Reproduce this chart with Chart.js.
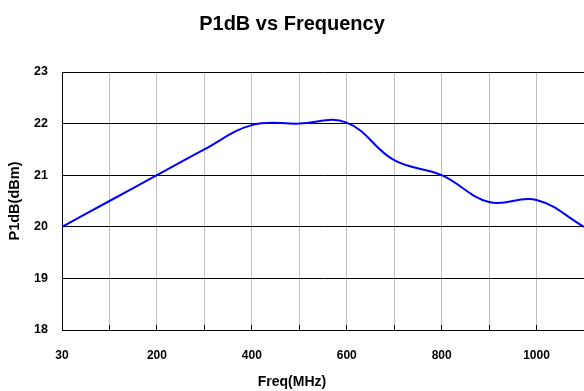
<!DOCTYPE html>
<html>
<head>
<meta charset="utf-8">
<script src="https://cdn.jsdelivr.net/npm/chart.js@4"></script>
<style>
  html, body { margin: 0; padding: 0; background: #fff; }
  #wrap { width: 584px; height: 391px; }
</style>
</head>
<body>
<div id="wrap"><canvas id="p1dbChart" width="584" height="391"></canvas></div>
<script>
const freqLabels = ['30', '100', '200', '300', '400', '500', '600', '700', '800', '900', '1000', '1100'];
const p1dbValues = [20.0, 20.5, 21.0, 21.5, 21.97, 22.0, 22.02, 21.29, 21.0, 20.48, 20.52, 20.0];
const yTicks = [18, 19, 20, 21, 22, 23];

const fontFamily = '"Liberation Sans", Arial, Helvetica, sans-serif';

const ctx = document.getElementById('p1dbChart').getContext('2d');
const chart = new Chart(ctx, {
    type: 'line',
    data: {
        labels: freqLabels,
        datasets: [{
            label: 'P1dB',
            data: p1dbValues,
            borderColor: '#0000ff',
            borderWidth: 2,
            pointRadius: 0,
            fill: false,
            tension: 0.4
        }]
    },
    options: {
        responsive: false,
        devicePixelRatio: 1,
        animation: false,
        layout: { padding: 0 },
        plugins: {
            legend: { display: false },
            tooltip: { enabled: false },
            title: {
                display: true,
                text: 'P1dB vs Frequency',
                color: '#000',
                font: { family: fontFamily, size: 20, weight: 'bold', lineHeight: 1.2 },
                padding: { top: 12, bottom: 36 }
            },
            subtitle: {
                display: true,
                position: 'bottom',
                text: 'Freq(MHz)',
                color: '#000',
                font: { family: fontFamily, size: 14, weight: 'bold', lineHeight: 1.2 },
                padding: { top: 0, bottom: 0 }
            }
        },
        scales: {
            x: {
                offset: false,
                // short tick marks pointing up into the plot
                grid: { color: '#c0c0c0', lineWidth: 1, drawTicks: true, tickLength: -5, tickColor: '#000' },
                border: { color: '#000', width: 1 },
                ticks: {
                    autoSkip: false,
                    maxRotation: 0,
                    padding: 23,
                    color: '#000',
                    font: { family: fontFamily, size: 12, weight: 'bold' },
                    // label every other category
                    callback: (val, i) => (i % 2 === 0 ? freqLabels[i] : '')
                },
                afterFit: (scale) => {
                    scale.height = 44.2;
                    scale.paddingLeft = 0;
                    scale.paddingRight = 0;
                }
            },
            y: {
                min: yTicks[0],
                max: yTicks[yTicks.length - 1],
                grid: { color: '#000', lineWidth: 1, drawTicks: false },
                border: { color: '#000', width: 1 },
                ticks: {
                    stepSize: 1,
                    padding: 14,
                    color: '#000',
                    font: { family: fontFamily, size: 12.5, weight: 'bold' }
                },
                title: {
                    display: true,
                    text: 'P1dB(dBm)',
                    color: '#000',
                    font: { family: fontFamily, size: 14.5, weight: 'bold', lineHeight: 1.2 },
                    padding: { top: 6, bottom: 0 }
                },
                afterFit: (scale) => { scale.width = 62; }
            }
        }
    }
});
</script>
</body>
</html>
